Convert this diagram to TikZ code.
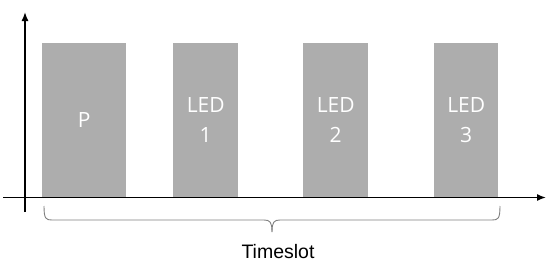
\documentclass[tikz,border=0pt]{standalone}
\usepackage{fontspec}
\setmainfont{Liberation Sans}
\newfontfamily\barfont{Open Sans}
\usetikzlibrary{arrows.meta}
\definecolor{bargray}{HTML}{A6A6A6}
\definecolor{bracegray}{HTML}{7F7F7F}
\begin{document}
\begin{tikzpicture}[x=1pt,y=-1pt,
  bar/.style={fill=bargray,draw=none,inner sep=0pt,anchor=north west,fill opacity=0.92},
  bartext/.style={text=white,align=center,font=\barfont\fontsize{21}{30}\selectfont},
  axis/.style={line width=1.4pt,-{Latex[length=9pt,width=7pt]}},
  bracel/.style={draw=bracegray,line width=0.9pt}]
\useasboundingbox (0,0) rectangle (550,265);
\coordinate (yb) at (25,212);
\coordinate (yt) at (25,12);
\coordinate (xl) at (3,197.5);
\coordinate (xr) at (546,197.5);
\draw[axis] (yb) -- (yt);
\draw[axis] (xl) -- (xr);
\node[bar,minimum width=84pt,minimum height=154pt] (p) at (42,43) {};
\node[bartext] (tp) at (p.center) {P};
\node[bar,minimum width=65pt,minimum height=154pt] (l1) at (173,43) {};
\node[bartext] (t1) at (l1.center) {LED\\1};
\node[bar,minimum width=65pt,minimum height=154pt] (l2) at (303,43) {};
\node[bartext] (t2) at (l2.center) {LED\\2};
\node[bar,minimum width=64pt,minimum height=154pt] (l3) at (434,43) {};
\node[bartext] (t3) at (l3.center) {LED\\3};
\coordinate (bl) at (44,206);
\coordinate (br) at (500,206);
\coordinate (bt) at (272,232);
\draw[bracel] (bl) .. controls (44,219) and (46,220) .. (52,220) -- (264,220) .. controls (270,220) and (272,222) .. (bt);
\draw[bracel] (br) .. controls (500,219) and (498,220) .. (492,220) -- (280,220) .. controls (274,220) and (272,222) .. (bt);
\node[anchor=base,font=\fontsize{19.5}{22}\selectfont,inner sep=0pt] (ts) at (278,258) {Timeslot};
\end{tikzpicture}
\end{document}
